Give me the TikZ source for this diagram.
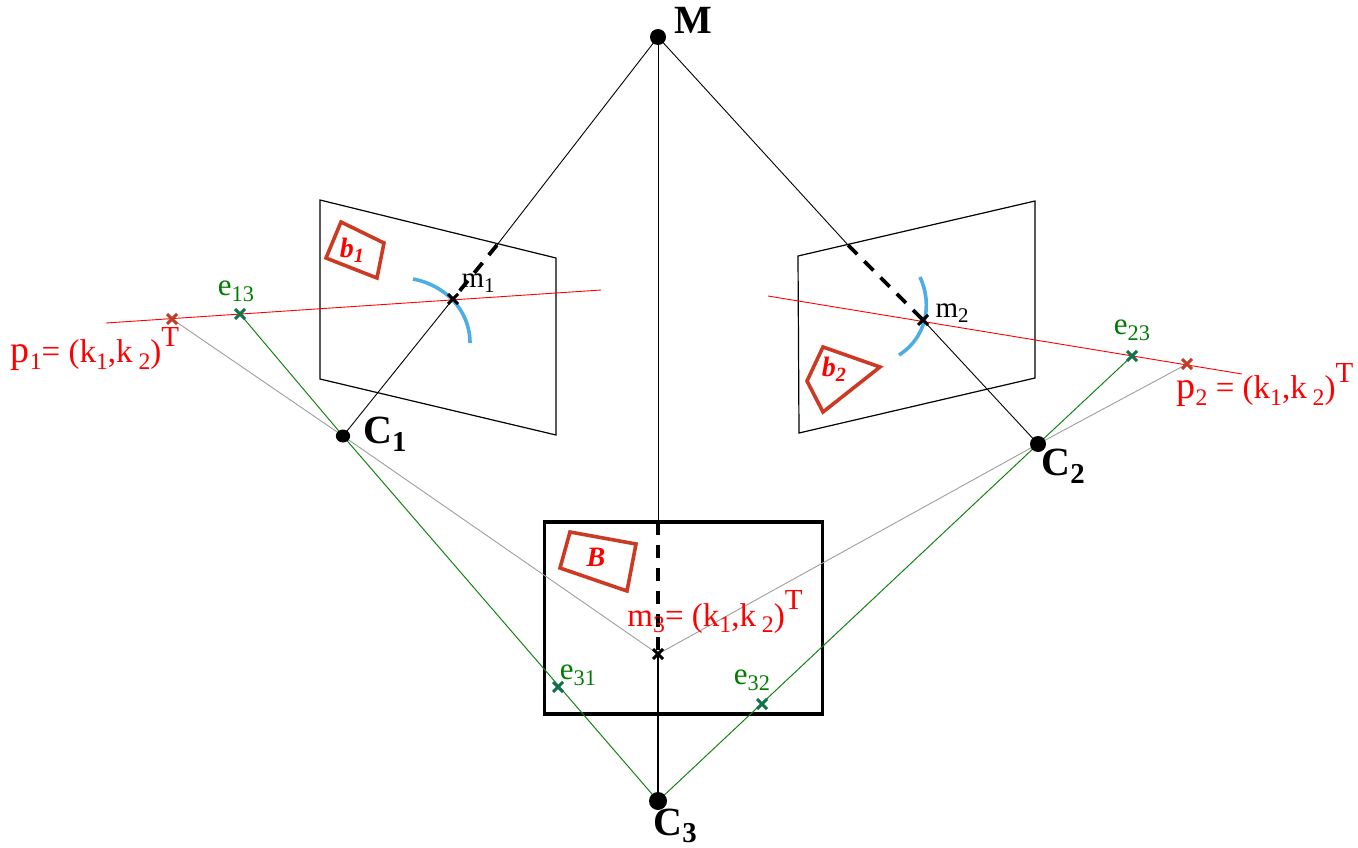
\documentclass[tikz,border=0pt]{standalone}
\usepackage{fontspec}
\setmainfont{Liberation Serif}
\usetikzlibrary{shapes.misc}
\definecolor{redbox}{RGB}{204,58,36}
\definecolor{arcblue}{RGB}{77,174,230}
\definecolor{gline}{RGB}{20,130,20}
\definecolor{gtxt}{RGB}{0,125,0}
\definecolor{gcross}{RGB}{18,115,75}
\definecolor{rcross}{RGB}{190,60,40}
\tikzset{
  x=1pt,y=-1pt,
  crossn/.style={cross out,draw=#1,line width=3pt,inner sep=0pt,minimum size=7pt},
  dotn/.style={circle,fill=black,inner sep=0pt,minimum size=#1},
  thin line/.style={black,line width=0.9pt},
  dashline/.style={black,line width=3.8pt,dash pattern=on 13pt off 10pt},
  plane/.style={black,line width=1.2pt},
  redl/.style={red,line width=0.9pt},
  greyl/.style={black!38,line width=0.9pt},
  greenl/.style={gline,line width=1pt},
  quadb/.style={redbox,line width=3.6pt,line join=miter},
  arcl/.style={arcblue,line width=3.6pt},
  lab/.style={inner sep=0pt,anchor=center},
  bigl/.style={lab,font=\fontsize{40}{40}\selectfont\bfseries},
  txtr/.style={lab,red,font=\fontsize{33}{33}\selectfont},
  txtg/.style={lab,gtxt,font=\fontsize{31}{31}\selectfont},
  txtk/.style={lab,font=\fontsize{29}{29}\selectfont},
  quadt/.style={lab,red,font=\fontsize{28}{28}\selectfont\bfseries\itshape},
}
\newcommand{\sbb}[1]{\raisebox{-0.42ex}{\scalebox{0.72}{#1}}}
\newcommand{\bigp}[1]{{\fontsize{38}{38}\selectfont #1}}
\newcommand{\supT}{\raisebox{1.1ex}{\fontsize{29}{29}\selectfont T}}
\begin{document}
\begin{tikzpicture}
\useasboundingbox (0,0) rectangle (1358,848);
% planes
\node[inner sep=0pt] (PA) at (320,200) {};
\node[inner sep=0pt] (PB) at (556,258) {};
\node[inner sep=0pt] (PC) at (556,435) {};
\node[inner sep=0pt] (PD) at (320,379) {};
\draw[plane] (PA.center) -- (PB.center) -- (PC.center) -- (PD.center) -- cycle;
\node[inner sep=0pt] (QA) at (1035,201) {};
\node[inner sep=0pt] (QB) at (798,256) {};
\node[inner sep=0pt] (QC) at (799,433) {};
\node[inner sep=0pt] (QD) at (1035,378) {};
\draw[plane] (QA.center) -- (QB.center) -- (QC.center) -- (QD.center) -- cycle;
\node[draw=black,line width=3.8pt,inner sep=0pt,minimum width=278pt,minimum height=192pt] (R) at (683.5,618) {};
% quads
\draw[quadb] (341,222) -- (384,243) -- (377,278) -- (326,258) -- cycle;
\draw[quadb] (823,347) -- (880,367) -- (823,412) -- (807,381) -- cycle;
\draw[quadb] (570,532) -- (636,544) -- (627,591) -- (560,568) -- cycle;
% arcs
\draw[arcl] (413,279) .. controls (445,285) and (470,310) .. (470,343);
\draw[arcl] (920,277) .. controls (933,305) and (926,338) .. (899,355);
% points
\coordinate (Mc) at (658,37);
\coordinate (C1c) at (343,436);
\coordinate (C2c) at (1038,444);
\coordinate (C3c) at (658,801);
\coordinate (m1) at (453,299);
\coordinate (m2) at (923,320);
\coordinate (m3) at (658,654);
\coordinate (p1) at (172,319);
\coordinate (e13) at (240,314);
\coordinate (p2) at (1187,364);
\coordinate (e23) at (1132,356);
\coordinate (e31) at (558,687);
\coordinate (e32) at (762,704);
\coordinate (d1) at (497,245);
\coordinate (d2) at (848,245);
\coordinate (d3) at (658,522);
\coordinate (ra) at (106,323);
\coordinate (rb) at (601,290);
\coordinate (rc) at (768,296);
\coordinate (rd) at (1242,374);
% lines
\draw[redl] (ra) -- (rb);
\draw[redl] (rc) -- (rd);
\draw[greyl] (p1) -- (C1c) -- (m3);
\draw[greyl] (p2) -- (C2c) -- (m3);
\draw[greenl] (e13) -- (C1c) -- (C3c);
\draw[greenl] (e23) -- (C2c) -- (C3c);
\draw[thin line] (Mc) -- (d1);
\draw[thin line] (Mc) -- (d2);
\draw[thin line] (Mc) -- (d3);
\draw[thin line] (C1c) -- (m1);
\draw[thin line] (C2c) -- (m2);
\draw[thin line,line width=1.2pt] (C3c) -- (m3);
\draw[dashline] (d1) -- (m1);
\draw[dashline] (d2) -- (m2);
\draw[dashline] (d3) -- (m3);
% dots
\node[dotn=16pt] (M) at (Mc) {};
\node[dotn=13pt,xscale=1.1] (C1) at (C1c) {};
\node[dotn=16pt] (C2) at (C2c) {};
\node[dotn=18pt] (C3) at (C3c) {};
% crosses
\node[crossn=black] (xm1) at (m1) {};
\node[crossn=black] (xm2) at (m2) {};
\node[crossn=black] (xm3) at (m3) {};
\node[crossn=rcross] (xp1) at (p1) {};
\node[crossn=rcross] (xp2) at (p2) {};
\node[crossn=gcross] (xe13) at (e13) {};
\node[crossn=gcross] (xe23) at (e23) {};
\node[crossn=gcross] (xe31) at (e31) {};
\node[crossn=gcross] (xe32) at (e32) {};
% labels
\node[bigl] (lM) at (693,20) {M};
\node[bigl] (lC1) at (385,434) {C\sbb{1}};
\node[bigl] (lC2) at (1063,466) {C\sbb{2}};
\node[bigl] (lC3) at (675,826) {C\sbb{3}};
\node[txtk] (lm1) at (478,283) {m\sbb{1}};
\node[txtk] (lm2) at (952,313) {m\sbb{2}};
\node[txtg] (le13) at (236,291) {e\sbb{13}};
\node[txtg] (le23) at (1132,330) {e\sbb{23}};
\node[txtg] (le31) at (578,675) {e\sbb{31}};
\node[txtg] (le32) at (752,680) {e\sbb{32}};
\node[txtr] (lp1) at (95,349) {\bigp{p}\sbb{1}= (k\sbb{1},k\sbb{ 2})\supT};
\node[txtr] (lp2) at (1265,385) {\bigp{p}\sbb{2} = (k\sbb{1},k\sbb{ 2})\supT};
\node[txtr] (lm3) at (715,612) {m\sbb{3}= (k\sbb{1},k\sbb{ 2})\supT};
\node[quadt] (lb1) at (352,250) {b\sbb{1}};
\node[quadt] (lb2) at (834,369) {b\sbb{2}};
\node[quadt] (lB) at (596,557) {B};
\end{tikzpicture}
\end{document}
